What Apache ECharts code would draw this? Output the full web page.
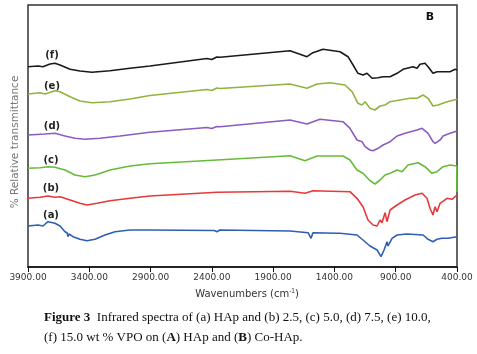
<!DOCTYPE html>
<html>
<head>
<meta charset="utf-8">
<script src="https://cdn.jsdelivr.net/npm/echarts@6/dist/echarts.min.js"></script>
<style>
html,body{margin:0;padding:0;background:#fff;}
#main{width:477px;height:354px;}
</style>
</head>
<body>
<div id="main"></div>
<script>
// spectra: [wavenumber, relative transmittance (arbitrary, offset for stacking)]
var specA = [[3900,41],[3818,42],[3778,41],[3737,45.3],[3680,43.7],[3639,41],[3598,35.3],[3580,34],[3574,30.3],[3565,33],[3533,30.3],[3476,27.7],[3419,26.3],[3353,27.7],[3272,32],[3190,35.3],[3068,37],[2905,37],[2380,36.5],[2358,35.3],[2335,37],[1762,36],[1615,34.3],[1591,28.7],[1575,34.3],[1379,33.7],[1371,32],[1354,33.7],[1216,32],[1167,27],[1110,21],[1052,17],[1020,10.3],[995,17],[971,25.3],[963,21],[930,28.7],[889,32],[808,33],[677,32],[636,27.7],[596,25.3],[563,27.7],[522,28.7],[473,28.7],[400,30.3]];
var specB = [[3900,68.7],[3802,69.7],[3737,71],[3680,69.7],[3639,70.3],[3557,67],[3476,63.7],[3419,62],[3337,63.7],[3231,66.3],[3068,68.7],[2905,71],[2358,74.7],[1762,75.7],[1640,73.7],[1575,76.3],[1273,75.3],[1216,68.7],[1167,60.3],[1126,47],[1085,42],[1052,41],[1028,47],[1012,44.3],[987,54.3],[971,45.3],[946,57],[889,62],[824,67],[742,72],[685,73.7],[645,68.7],[620,58.7],[596,52],[579,60.3],[563,55.3],[538,63.7],[481,68.7],[441,67.7],[400,72]];
var specC = [[3900,98.7],[3802,99.3],[3737,100.3],[3680,99.7],[3598,97],[3517,92],[3435,90.3],[3353,92],[3231,97],[3068,101],[2905,103.2],[2358,107],[1762,111.3],[1640,106.3],[1542,111],[1330,111],[1273,107],[1216,97],[1167,93.7],[1110,86.3],[1069,83],[1028,87],[987,92],[946,93.7],[889,97],[848,95.3],[800,102],[718,104.3],[661,100.3],[604,93.7],[563,95.3],[514,100.3],[457,102],[402,101],[400,75]];
var specD = [[3900,132],[3761,133],[3680,133.7],[3598,131],[3517,128.7],[3435,127.7],[3313,128.7],[3149,131],[2905,134.8],[2440,139.5],[2400,138.5],[2360,140.5],[2333,140.3],[1762,147],[1624,143],[1518,147.7],[1330,145.3],[1273,138.7],[1216,127],[1175,125.3],[1150,120.3],[1110,117],[1085,116.3],[1044,118.7],[1003,122],[946,125.3],[889,131],[824,133.7],[726,137],[685,138.7],[636,133.7],[596,125.3],[579,123.7],[538,127],[514,131],[457,133.7],[400,136]];
var specE = [[3900,173],[3802,174.3],[3761,173],[3680,176.3],[3639,175.3],[3557,170.3],[3476,166],[3378,164.3],[3231,165.3],[3068,168],[2905,171.5],[2440,177.5],[2400,176.5],[2360,179],[2333,178.5],[1762,183],[1624,178.7],[1542,183],[1436,184.3],[1314,182],[1256,175.3],[1208,163.7],[1175,162],[1150,165.3],[1110,158.7],[1069,157],[1028,161],[987,162],[946,165.3],[865,167],[783,168.7],[726,168.7],[677,172],[636,168.7],[596,161],[555,162],[481,165.3],[400,167.7]];
var specF = [[3900,200.3],[3818,201],[3778,200.3],[3720,203],[3680,203.7],[3639,202],[3557,197.7],[3476,196],[3378,194.7],[3231,196.3],[3068,198.7],[2905,201],[2440,208.5],[2400,207.5],[2360,210],[2333,209.7],[1762,216.3],[1624,210.3],[1575,214.3],[1493,217.7],[1354,215.3],[1289,210.3],[1248,202],[1208,193.7],[1167,192],[1134,193.7],[1093,188.7],[1044,189.3],[1003,190.3],[946,190.3],[889,193.7],[840,197.7],[759,200.3],[726,198.7],[702,202.7],[661,203.7],[636,200.3],[596,193.7],[563,195.3],[514,195.3],[457,195.3],[416,197.7],[400,197]];

var seriesNames = ['(a)', '(b)', '(c)', '(d)', '(e)', '(f)'];
var seriesData = [specA, specB, specC, specD, specE, specF];
var seriesColors = ['#2f5fb3', '#e63a3a', '#66bb3a', '#8a5cc0', '#90b43e', '#1a1a1a'];

var chart = echarts.init(document.getElementById('main'));

var series = [];
for (var i = 0; i < seriesData.length; i++) {
	series.push({
		name : seriesNames[i],
		type : 'line',
		data : seriesData[i],
		showSymbol : false,
		symbol : 'none',
		smooth : false,
		lineStyle : { color : seriesColors[i], width : 1.6 },
		itemStyle : { color : seriesColors[i] },
		z : 3
	});
}

// curve tags, drawn as plain text near the left edge
var tagPos = [[51, 215], [51, 188], [51, 160], [52, 126], [52, 86], [52, 55]];
var graphics = [];
for (var j = 0; j < seriesNames.length; j++) {
	graphics.push({
		type : 'text', x : tagPos[j][0], y : tagPos[j][1],
		style : { text : seriesNames[j], fill : '#222', font : 'bold 10px "DejaVu Sans"', align : 'center', verticalAlign : 'middle' }
	});
}
graphics.push({
	type : 'text', x : 430, y : 17,
	style : { text : 'B', fill : '#111', font : 'bold 11px "DejaVu Sans"', align : 'center', verticalAlign : 'middle' }
});
graphics.push({
	type : 'text', x : 15, y : 142, rotation : Math.PI / 2,
	style : { text : '% Relative transmittance', fill : '#777', font : '10.5px "DejaVu Sans"', align : 'center', verticalAlign : 'middle' }
});
graphics.push({
	type : 'text', x : 247, y : 294,
	style : {
		text : 'Wavenumbers (cm{sup|-1})',
		rich : { sup : { fontSize : 6.5, verticalAlign : 'top', padding : [0, 0, 5, 0], fill : '#333' } },
		fill : '#333', font : '10px "DejaVu Sans"', align : 'center', verticalAlign : 'middle'
	}
});
graphics.push({
	type : 'text', x : 44, y : 318,
	style : {
		text : '{b|Figure 3}  Infrared spectra of (a) HAp and (b) 2.5, (c) 5.0, (d) 7.5, (e) 10.0,',
		rich : { b : { fontWeight : 'bold', fontFamily : '"Liberation Serif"', fontSize : 13, fill : '#111' } },
		fill : '#111', font : '13px "Liberation Serif"', verticalAlign : 'middle'
	}
});
graphics.push({
	type : 'text', x : 44, y : 338,
	style : {
		text : '(f) 15.0 wt % VPO on ({b|A}) HAp and ({b|B}) Co-HAp.',
		rich : { b : { fontWeight : 'bold', fontFamily : '"Liberation Serif"', fontSize : 13, fill : '#111' } },
		fill : '#111', font : '13px "Liberation Serif"', verticalAlign : 'middle'
	}
});

chart.setOption({
	animation : false,
	grid : {
		left : 28, right : 20, top : 5, bottom : 87,
		show : true, borderColor : '#333', borderWidth : 1.5, backgroundColor : 'transparent'
	},
	xAxis : {
		type : 'value',
		min : 400, max : 3900, interval : 500,
		inverse : true,
		splitLine : { show : false },
		axisLine : { show : true, lineStyle : { color : '#111', width : 1.5 } },
		axisTick : { show : true, inside : false, length : 5, lineStyle : { color : '#111', width : 1 } },
		axisLabel : {
			color : '#333', fontSize : 9, fontFamily : 'DejaVu Sans', margin : 6,
			formatter : function (v) { return v.toFixed(2); }
		}
	},
	yAxis : {
		type : 'value', min : 0, max : 262,
		show : false, splitLine : { show : false }
	},
	series : series,
	graphic : graphics
});
</script>
</body>
</html>
